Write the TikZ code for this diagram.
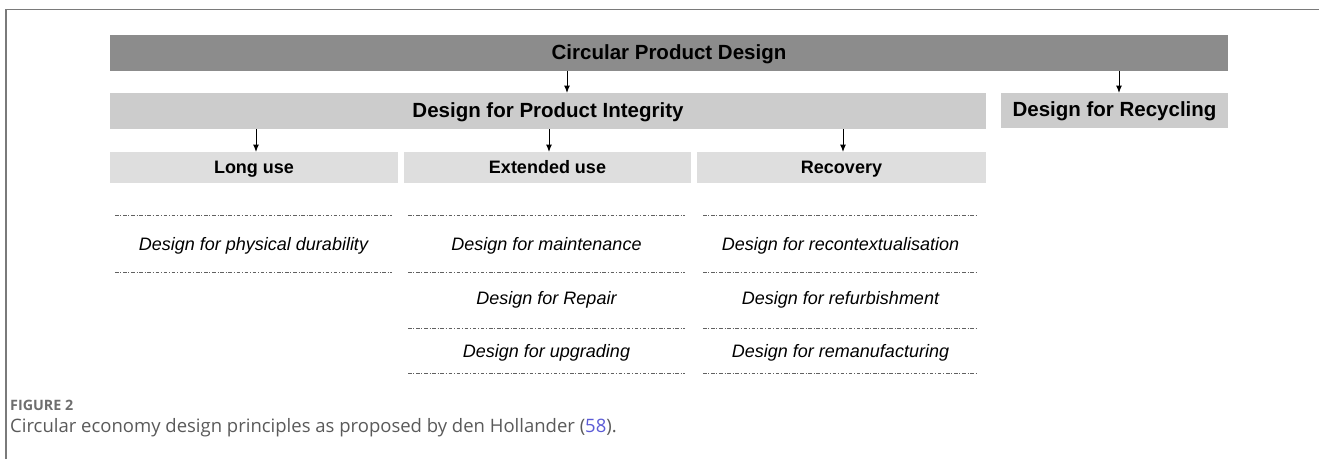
\documentclass[tikz,border=0pt]{standalone}
\usepackage{fontspec}
\setmainfont{Liberation Sans}
\newfontfamily\capfont{Open Sans}
\usetikzlibrary{arrows.meta,calc}
\definecolor{barA}{HTML}{8C8C8C}
\definecolor{barB}{HTML}{CCCCCC}
\definecolor{barC}{HTML}{DEDEDE}
\definecolor{framec}{HTML}{7A7A7A}
\definecolor{capgray}{HTML}{5A5A5A}
\definecolor{figgray}{HTML}{6E6E6E}
\definecolor{linkc}{HTML}{5B5BD6}
\tikzset{
  box/.style={inner sep=0pt, outer sep=0pt, anchor=center, text height=1.2em, text depth=0pt, font=\bfseries\fontsize{20.5}{24}\selectfont},
  topbar/.style={box, fill=barA},
  midbar/.style={box, fill=barB},
  subbar/.style={box, fill=barC, font=\bfseries\fontsize{18}{21}\selectfont},
  item/.style={inner sep=0pt, anchor=base, font=\itshape\fontsize{18}{21}\selectfont},
  sep/.style={draw=black!62, line width=0.9pt, dash pattern=on 3.5pt off 1.8pt on 1pt off 1.8pt},
  arr/.style={-{Latex[length=7.5pt,width=6pt]}, line width=1pt},
}
\begin{document}
\begin{tikzpicture}[x=1pt,y=-1pt]
\useasboundingbox (0,0) rectangle (1319,459);
% frame
\draw[framec, line width=1.3pt] (6,459) -- (6,9.5) -- (1319,9.5);
% bars
\node[topbar, minimum width=1118pt, minimum height=36pt] (cpd) at (669,53) {Circular Product Design};
\node[midbar, minimum width=876pt, minimum height=36pt] (dpi) at (548,111) {Design for Product Integrity};
\node[midbar, minimum width=227pt, minimum height=35pt] (dfr) at (1114.5,110.5) {Design for Recycling};
\node[subbar, minimum width=288pt, minimum height=31pt] (lu) at (254,167.5) {Long use};
\node[subbar, minimum width=287pt, minimum height=31pt] (eu) at (547.5,167.5) {Extended use};
\node[subbar, minimum width=289pt, minimum height=31pt] (rc) at (841.5,167.5) {Recovery};
% arrows
\draw[arr] (cpd.south -| 567,0) -- (dpi.north -| 567,0);
\draw[arr] (cpd.south -| 1119,0) -- (dfr.north -| 1119,0);
\draw[arr] (dpi.south -| 256,0) -- (lu.north -| 256,0);
\draw[arr] (dpi.south -| 549,0) -- (eu.north -| 549,0);
\draw[arr] (dpi.south -| 843,0) -- (rc.north -| 843,0);
% separators
\foreach \y in {215,272} \draw[sep] (115,\y) -- (392,\y);
\foreach \y in {215,272,328,373} \draw[sep] (408,\y) -- (685,\y);
\foreach \y in {215,272,328,373} \draw[sep] (703,\y) -- (978,\y);
% items
\node[item] (a1) at (253.5,250.5) {Design for physical durability};
\node[item] (b1) at (546.5,250.5) {Design for maintenance};
\node[item] (b2) at (546.5,304.5) {Design for Repair};
\node[item] (b3) at (546.5,357) {Design for upgrading};
\node[item] (c1) at (840.5,250.5) {Design for recontextualisation};
\node[item] (c2) at (840.5,304.5) {Design for refurbishment};
\node[item] (c3) at (840.5,357) {Design for remanufacturing};
% caption
\node[anchor=west, inner sep=0pt, text=figgray, font=\capfont\bfseries\fontsize{14.3}{16}\selectfont] (fig) at (10,405) {FIGURE 2};
\node[anchor=west, inner sep=0pt, text=capgray, font=\capfont\fontsize{18.5}{22}\selectfont] (cap) at (10,428) {Circular economy design principles as proposed by den Hollander (\textcolor{linkc}{58}).};
\end{tikzpicture}
\end{document}
